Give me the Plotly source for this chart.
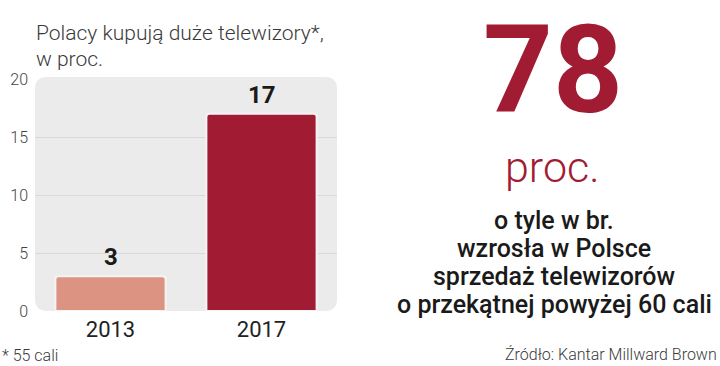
import plotly.graph_objects as go

years = ["2013", "2017"]
values = [3, 17]
bar_colors = ["#dc9381", "#a11c33"]
y_ticks = [0, 5, 10, 15, 20]

title_lines = ["Polacy kupują duże telewizory*,", "w proc."]
big_number = "78"
big_unit = "proc."
body_lines = ["o tyle w br.", "wzrosła w Polsce", "sprzedaż telewizorów", "o przekątnej powyżej 60 cali"]
footnote = "* 55 cali"
source = "Źródło: Kantar Millward Brown"

W, H = 720, 366
x0, x1 = 35, 337
yt, yb = 79, 311

fig = go.Figure()
fig.add_trace(go.Bar(
    x=years, y=values, width=0.73,
    marker=dict(color=bar_colors, line=dict(color="#f4f4f4", width=2), cornerradius=3),
    hoverinfo="skip",
))

# value labels (x given as category index)
for i, v in enumerate(values):
    fig.add_annotation(x=i, y=v, text=f"<b>{v}</b>", showarrow=False,
                       yanchor="middle", yshift=19, xref="x", yref="y",
                       font=dict(family="Roboto", size=24, color="#1a1a1a"))

# rounded grey panel
def px(x): return x / W
def py(y): return 1 - y / H
r = 12
L, R, T, B = px(x0), px(x1), py(yt - 2), py(yb)
rx, ry = r / W, r / H
path = (f"M {L+rx},{T} L {R-rx},{T} Q {R},{T} {R},{T-ry} L {R},{B+ry} Q {R},{B} {R-rx},{B} "
        f"L {L+rx},{B} Q {L},{B} {L},{B+ry} L {L},{T-ry} Q {L},{T} {L+rx},{T} Z")
fig.add_shape(type="path", path=path, xref="paper", yref="paper",
              fillcolor="#ebebeb", line=dict(width=0), layer="below")

# title
for i, t in enumerate(title_lines):
    fig.add_annotation(x=px(34), y=py(33 + i * 26), text=t, showarrow=False,
                       xref="paper", yref="paper", xanchor="left", yanchor="middle",
                       font=dict(family="Roboto", size=21, color="#3a3a3a", weight=300))

# right block
fig.add_annotation(x=px(553), y=py(70), text=big_number, showarrow=False,
                   xref="paper", yref="paper", xanchor="center", yanchor="middle",
                   font=dict(family="Roboto", size=122, color="#a11c33", weight=700))
fig.add_annotation(x=px(552), y=py(167), text=big_unit, showarrow=False,
                   xref="paper", yref="paper", xanchor="center", yanchor="middle",
                   font=dict(family="Roboto", size=43, color="#a11c33", weight=300))
for i, t in enumerate(body_lines):
    fig.add_annotation(x=px(554), y=py(220 + i * 28), text=t, showarrow=False,
                       xref="paper", yref="paper", xanchor="center", yanchor="middle",
                       font=dict(family="Roboto", size=25, color="#1a1a1a", weight=500))

fig.add_annotation(x=px(0), y=py(355), text=footnote, showarrow=False,
                   xref="paper", yref="paper", xanchor="left", yanchor="middle",
                   font=dict(family="Roboto", size=16, color="#3a3a3a", weight=300))
fig.add_annotation(x=px(719), y=py(354), text=source, showarrow=False,
                   xref="paper", yref="paper", xanchor="right", yanchor="middle",
                   font=dict(family="Roboto", size=16, color="#3a3a3a", weight=300))

fig.update_layout(
    width=W, height=H,
    margin=dict(l=0, r=0, t=0, b=0),
    paper_bgcolor="white", plot_bgcolor="rgba(0,0,0,0)",
    showlegend=False, bargap=0.27,
    xaxis=dict(domain=[px(x0), px(x1)], range=[-0.5, 1.5], type="category",
               showgrid=False, zeroline=False, showline=False, ticks="",
               ticklabelstandoff=3,
               tickfont=dict(family="Roboto", size=22, color="#222"), automargin=False),
    yaxis=dict(domain=[py(yb), py(yt)], range=[0, 20], tickvals=y_ticks,
               showgrid=True, gridcolor="#d9d9d9", gridwidth=1, zeroline=False,
               showline=False, ticks="", ticklabelstandoff=6,
               tickfont=dict(family="Roboto", size=16, color="#444", weight=300), automargin=False),
)

fig.write_html("out.html", config={"staticPlot": True},
               post_script="document.body.style.margin='0px';document.body.style.overflow='hidden';")
